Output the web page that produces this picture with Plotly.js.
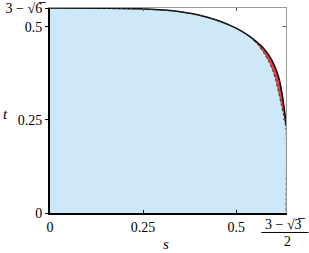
<!DOCTYPE html>
<html>
<head>
<meta charset="utf-8">
<script src="https://cdn.plot.ly/plotly-3.0.1.min.js"></script>
<style>html,body{margin:0;padding:0;background:#fff;}#chart{width:309px;height:253px;}</style>
</head>
<body>
<div id="chart"></div>
<script>
// Limits
var sMax = (3 - Math.sqrt(3)) / 2;   // 0.634
var tMax = 3 - Math.sqrt(6);         // 0.5505

// Solid black boundary curve (s, t)
var solidS = [0, 0.16, 0.24, 0.33, 0.38, 0.42, 0.46, 0.49, 0.52, 0.545, 0.565, 0.582, 0.596, 0.607, 0.616, 0.623, 0.628, 0.6315, 0.634];
var solidT = [0.5505, 0.5500, 0.5482, 0.5430, 0.5355, 0.5262, 0.5135, 0.5010, 0.4850, 0.4680, 0.4510, 0.4320, 0.4100, 0.3860, 0.3580, 0.3220, 0.2900, 0.2630, 0.2400];

// Dashed boundary curve (s, t)
var dashS = [0, 0.16, 0.24, 0.33, 0.38, 0.42, 0.46, 0.49, 0.52, 0.542, 0.559, 0.573, 0.586, 0.597, 0.606, 0.6145, 0.6215, 0.6275, 0.634, 0.634];
var dashT = [0.5505, 0.5500, 0.5482, 0.5430, 0.5355, 0.5262, 0.5135, 0.5010, 0.4850, 0.4680, 0.4510, 0.4320, 0.4100, 0.3860, 0.3580, 0.3220, 0.2900, 0.2630, 0.2250, 0];

// Tick labels
var xTickVals = [0, 0.25, 0.5, sMax];
var xTickText = ["0", "0.25", "0.5", ""];
var yTickVals = [0, 0.25, 0.5, tMax];
var yTickText = ["0", "0.25", "0.5", "3 − √6\u0305"];

var FONT = "'Liberation Serif', 'DejaVu Serif', serif";

var traces = [
  { x: dashS, y: dashT, type: "scatter", mode: "lines", fill: "tozeroy",
    fillcolor: "#cce8f9", line: { width: 0, color: "rgba(0,0,0,0)", shape: "spline", smoothing: 0.6 },
    hoverinfo: "skip", showlegend: false },
  { x: solidS, y: solidT, type: "scatter", mode: "lines", fill: "tonexty",
    fillcolor: "#ee3a40", line: { width: 1.5, color: "#000", shape: "spline", smoothing: 0.6 },
    hoverinfo: "skip", showlegend: false },
  { x: dashS, y: dashT, type: "scatter", mode: "lines",
    line: { width: 1, color: "#333", dash: "3px,2px", shape: "spline", smoothing: 0.6 },
    hoverinfo: "skip", showlegend: false }
];

var layout = {
  width: 309, height: 253,
  margin: { l: 50, r: 23, t: 8, b: 40 },
  paper_bgcolor: "#fff", plot_bgcolor: "#fff",
  font: { family: FONT, size: 14, color: "#000" },
  showlegend: false,
  xaxis: { range: [0, sMax], showgrid: false, zeroline: false, showline: true, linecolor: "#000", linewidth: 2,
    ticks: "inside", ticklen: 3, tickcolor: "#000", tickvals: xTickVals, ticktext: xTickText,
    tickfont: { family: FONT, size: 14 }, fixedrange: true },
  yaxis: { range: [0, tMax], showgrid: false, zeroline: false, showline: true, linecolor: "#000", linewidth: 2,
    ticks: "outside", ticklen: 3, tickcolor: "#000", tickvals: yTickVals, ticktext: yTickText,
    tickfont: { family: FONT, size: 14 }, fixedrange: true },
  xaxis2: { overlaying: "x", side: "top", range: [0, sMax], showgrid: false, zeroline: false, showline: true,
    linecolor: "#999", linewidth: 1, ticks: "inside", ticklen: 3, tickcolor: "#555",
    tickvals: [0.25, 0.5], showticklabels: false, fixedrange: true },
  yaxis2: { overlaying: "y", side: "right", range: [0, tMax], showgrid: false, zeroline: false, showline: true,
    linecolor: "#999", linewidth: 1, ticks: "inside", ticklen: 3, tickcolor: "#555",
    tickvals: [0.25, 0.5], showticklabels: false, fixedrange: true },
  annotations: [
    { xref: "paper", yref: "paper", x: 0.996, y: -0.058, text: "3 − √3\u0305", showarrow: false,
      xanchor: "center", yanchor: "middle", font: { family: FONT, size: 14 } },
    { xref: "paper", yref: "paper", x: 1.005, y: -0.14, text: "2", showarrow: false,
      xanchor: "center", yanchor: "middle", font: { family: FONT, size: 14 } },
    { xref: "paper", yref: "paper", x: -0.19, y: 0.483, text: "<i>t</i>", showarrow: false,
      xanchor: "center", yanchor: "middle", font: { family: FONT, size: 15 } },
    { xref: "paper", yref: "paper", x: 0.49, y: -0.152, text: "<i>s</i>", showarrow: false,
      xanchor: "center", yanchor: "middle", font: { family: FONT, size: 15 } }
  ],
  shapes: [
    { type: "line", xref: "paper", yref: "paper", x0: 0.895, x1: 1.095, y0: -0.095, y1: -0.095,
      line: { color: "#000", width: 1 } }
  ]
};

// invisible trace to activate the mirrored frame axes
traces.push({ x: [0], y: [0], xaxis: "x2", yaxis: "y2", type: "scatter", mode: "markers",
  marker: { opacity: 0 }, hoverinfo: "skip", showlegend: false });

Plotly.newPlot("chart", traces, layout, { displayModeBar: false, staticPlot: true });
</script>
</body>
</html>
